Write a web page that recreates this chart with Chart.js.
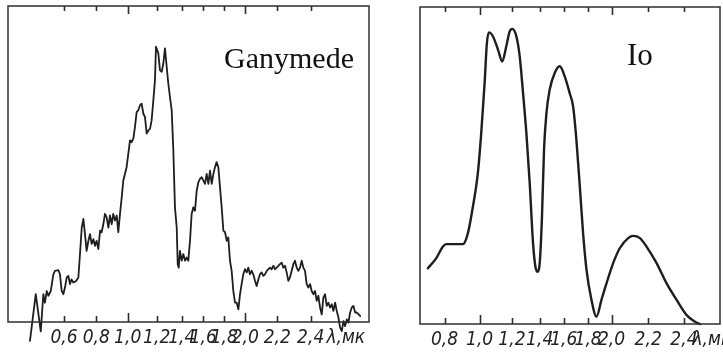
<!DOCTYPE html>
<html><head><meta charset="utf-8">
<script src="https://cdn.jsdelivr.net/npm/chart.js@4/dist/chart.umd.min.js"></script>
<style>
html,body{margin:0;padding:0;background:#fff;}
#wrap{position:relative;width:723px;height:352px;overflow:hidden;background:#fff;}
canvas{position:absolute;top:0;}
</style></head><body>
<div id="wrap">
<canvas id="c1" width="380" height="352" style="left:0"></canvas>
<canvas id="c2" width="343" height="352" style="left:380px"></canvas>
</div>
<script>
// ---------------- DATA (wavelength in microns, relative signal 0..100 of frame height) -------------
const ganymedeWavelength = [
0.389,0.425,0.456,0.472,0.482,0.493,0.503,0.518,0.534,0.544,
0.565,0.575,0.586,0.596,0.606,0.617,0.627,0.637,0.647,0.658,
0.675,0.689,0.699,0.710,0.720,0.730,0.740,0.751,0.761,0.771,
0.782,0.792,0.802,0.813,0.824,0.834,0.845,0.855,0.866,0.877,
0.887,0.898,0.908,0.919,0.930,0.940,0.951,0.962,0.972,0.993,
1.004,1.016,1.027,1.039,1.050,1.062,1.073,1.085,1.096,1.108,
1.119,1.131,1.142,1.154,1.165,1.177,1.188,1.195,1.213,1.226,
1.240,1.253,1.266,1.280,1.293,1.306,1.320,1.333,1.346,1.360,
1.368,1.376,1.386,1.400,1.415,1.431,1.446,1.461,1.477,1.492,
1.508,1.523,1.539,1.554,1.569,1.585,1.600,1.616,1.632,1.648,
1.664,1.680,1.696,1.711,1.727,1.743,1.759,1.775,1.791,1.807,
1.823,1.838,1.854,1.870,1.886,1.902,1.918,1.934,1.950,1.965,
1.981,1.997,2.009,2.019,2.029,2.040,2.050,2.061,2.071,2.082,
2.092,2.102,2.113,2.123,2.134,2.154,2.165,2.175,2.186,2.196,
2.216,2.226,2.236,2.246,2.256,2.266,2.276,2.286,2.296,2.306,
2.316,2.326,2.336,2.346,2.356,2.366,2.376,2.386,2.396,2.406,
2.416,2.426,2.436,2.446,2.456,2.466,2.476,2.486,2.496,2.506,
2.516,2.526,2.536,2.546,2.556,2.566,2.576,2.586,2.596,2.606,
2.616,2.626,2.636,2.646,2.656,2.666,2.676,2.696];
const ganymedeSignal = [
-6.0,8.8,-3.0,8.8,6.1,9.8,8.3,9.8,15.1,16.2,
16.4,15.1,9.8,8.8,10.9,14.1,14.6,12.0,13.5,12.5,
13.0,14.1,21.5,29.9,32.6,27.8,22.5,25.7,27.8,24.7,
26.2,24.1,25.7,23.1,28.9,28.4,31.0,34.2,33.1,29.9,
33.7,31.0,34.2,32.1,33.7,28.4,34.2,39.5,44.8,49.0,
53.2,57.5,56.9,58.0,61.7,66.5,67.0,68.6,69.1,65.9,
64.9,59.6,60.6,61.2,63.8,70.2,76.5,87.1,85.0,79.7,
79.2,81.8,86.6,80.7,75.4,71.2,67.0,54.3,36.3,29.9,
18.3,17.2,22.5,19.4,21.5,19.4,20.4,19.4,25.7,34.2,
36.3,35.2,41.6,44.2,45.3,45.8,44.8,43.7,46.9,43.7,
47.9,43.7,46.9,49.0,50.6,49.0,42.6,36.3,28.9,28.4,
25.7,26.8,19.4,16.2,9.8,6.1,6.1,4.0,8.8,12.0,
15.1,16.7,15.7,17.2,15.1,16.2,15.1,13.0,11.4,13.5,
15.1,15.7,14.6,15.1,16.2,17.2,16.7,17.8,16.7,17.2,
18.3,18.8,17.2,17.8,15.7,13.0,14.1,16.2,18.3,19.4,
17.2,16.2,17.2,19.4,17.2,16.2,12.0,10.9,12.0,9.8,
8.8,9.8,6.7,8.3,4.6,2.4,7.7,8.8,5.1,6.1,
4.6,5.6,3.5,6.1,3.5,1.4,-1.8,-2.9,0.3,-1.3,
0.8,-0.2,3.0,4.6,5.1,3.0,3.0,1.9];

const ioWavelength = [
0.705,0.752,0.790,0.810,0.848,0.905,0.933,0.962,0.990,1.010,
1.031,1.045,1.058,1.083,1.114,1.140,1.165,1.186,1.203,1.232,
1.256,1.280,1.304,1.328,1.352,1.369,1.383,1.400,1.419,1.436,
1.456,1.483,1.525,1.567,1.608,1.649,1.677,1.704,1.732,1.759,
1.787,1.829,1.872,1.914,1.957,2.009,2.045,2.091,2.118,2.155,
2.191,2.247,2.303,2.359,2.415,2.461,2.489];
const ioSignal = [
17.6,20.7,24.4,25.2,25.2,25.2,28.6,37.1,47.6,60.2,
76.0,88.6,92.0,90.7,86.5,82.8,87.6,92.3,93.1,90.7,
84.4,72.8,60.2,44.4,25.5,18.1,16.5,19.2,33.9,54.9,
66.5,73.9,79.2,81.3,78.1,72.8,68.6,58.1,43.4,28.6,
17.1,7.6,2.3,7.6,12.8,19.2,23.9,27.1,27.8,27.1,
24.4,19.2,12.8,7.6,2.8,0.7,0];

// tick labels (λ axis, unit label last)
const ganymedeTickValues = [0.6,0.8,1.0,1.2,1.4,1.6,1.8,2.0,2.2,2.4,2.61];
const ganymedeTickLabels = ['0,6','0,8','1,0','1,2','1,4','1,6','1,8','2,0','2,2','2,4','λ,мк'];
const ioTickValues = [0.8,1.0,1.2,1.4,1.6,1.8,2.0,2.2,2.4,2.555];
const ioTickLabels = ['0,8','1,0','1,2','1,4','1,6','1,8','2,0','2,2','2,4','λ,мк'];

// ---------------- non-linear (prism-dispersion) wavelength scale definition ----------------
const ganymedeScaleStops = {values:[0.253,0.6,0.8,1.0,1.2,1.4,1.6,1.8,2.0,2.2,2.4,2.749],
  fracs:[0,0.1551,0.2446,0.3316,0.4119,0.4812,0.5410,0.5992,0.6573,0.7460,0.8385,1]};
const ioScaleStops = {values:[0.66,0.8,1.0,1.2,1.4,1.6,1.8,2.0,2.2,2.4,2.6],
  fracs:[0,0.0818,0.1987,0.3065,0.3990,0.4791,0.5603,0.6384,0.7606,0.8798,1]};

function interp(xs, ys, v){
  const n = xs.length;
  let i = 0;
  if (v <= xs[0]) i = 0;
  else if (v >= xs[n-1]) i = n-2;
  else { while (i < n-2 && v > xs[i+1]) i++; }
  return ys[i] + (v - xs[i]) * (ys[i+1]-ys[i]) / (xs[i+1]-xs[i]);
}

function makeWarpScale(id, stops, tickValues){
  return class extends Chart.LinearScale {
    static id = id;
    buildTicks(){ return tickValues.map(v => ({value: v})); }
    getPixelForValue(v){ return this.getPixelForDecimal(interp(stops.values, stops.fracs, v)); }
    getValueForPixel(p){ return interp(stops.fracs, stops.values, this.getDecimalForPixel(p)); }
  };
}
const GanymedeScale = makeWarpScale('warpGanymede', ganymedeScaleStops, ganymedeTickValues);
const IoScale = makeWarpScale('warpIo', ioScaleStops, ioTickValues);
Chart.register(GanymedeScale, IoScale);

const INK = '#1e1e1e';

const framePlugin = {
  id: 'frame',
  afterDatasetsDraw(chart){
    const a = chart.chartArea, ctx = chart.ctx, xs = chart.scales.x;
    ctx.save();
    ctx.strokeStyle = '#2e2e2e';
    ctx.lineWidth = 1.5;
    ctx.strokeRect(a.left, a.top, a.right - a.left, a.bottom - a.top);
    ctx.lineWidth = 1.6;
    ctx.lineCap = 'butt';
    const n = xs.ticks.length;
    for (let i = 0; i < n - 1; i++) { // last tick is the unit label: no mark
      const t = xs.ticks[i];
      const x = Math.round(xs.getPixelForValue(t.value)) + 0.5;
      const major = Math.abs(t.value - Math.round(t.value)) < 1e-6;
      const len = major ? 9 : 6;
      ctx.beginPath();
      ctx.moveTo(x, a.bottom);
      ctx.lineTo(x, a.bottom - len);
      ctx.stroke();
      ctx.beginPath();
      ctx.moveTo(x, a.top);
      ctx.lineTo(x, a.top + len - 1);
      ctx.stroke();
    }
    ctx.restore();
  },
  afterDraw(chart, args, opts){
    if (!opts || !opts.text) return;
    const ctx = chart.ctx;
    ctx.save();
    ctx.fillStyle = '#111';
    ctx.font = opts.size + "px 'Liberation Serif', 'Times New Roman', serif";
    ctx.textBaseline = 'alphabetic';
    ctx.textAlign = 'left';
    ctx.fillText(opts.text, opts.x, opts.y);
    ctx.restore();
  }
};

function makeChart(canvasId, scaleType, xs, ys, labels, stops, lineWidth, smooth, padding, axisHeight, title){
  return new Chart(document.getElementById(canvasId), {
    type: 'line',
    data: {
      datasets: [{
        data: xs.map((x, i) => ({x: x, y: ys[i]})),
        borderColor: INK,
        borderWidth: lineWidth,
        pointRadius: 0,
        fill: false,
        clip: false,
        tension: smooth ? 0.4 : 0,
        cubicInterpolationMode: smooth ? 'monotone' : 'default',
        borderJoinStyle: 'round',
        borderCapStyle: 'round'
      }]
    },
    options: {
      responsive: false,
      animation: false,
      events: [],
      layout: { padding: padding },
      plugins: { legend: {display: false}, tooltip: {enabled: false}, frame: title },
      scales: {
        x: {
          type: scaleType,
          min: stops.values[0],
          max: stops.values[stops.values.length - 1],
          grid: { display: false, drawTicks: false },
          border: { display: false },
          ticks: {
            autoSkip: false, maxRotation: 0, minRotation: 0, padding: 5,
            color: '#222',
            font: { family: "'Liberation Sans Narrow', 'DejaVu Sans Condensed', 'Liberation Sans', sans-serif", size: 19, style: 'italic' },
            callback: (v, i) => labels[i]
          },
          afterFit(scale){ scale.height = axisHeight; scale.paddingLeft = 0; scale.paddingRight = 0; }
        },
        y: { display: false, min: 0, max: 100 }
      }
    },
    plugins: [framePlugin]
  });
}

makeChart('c1', 'warpGanymede', ganymedeWavelength, ganymedeSignal, ganymedeTickLabels, ganymedeScaleStops,
  1.8, false, {left: 8, right: 11, top: 6, bottom: 0}, 30, {text: 'Ganymede', x: 224, y: 68, size: 30});
makeChart('c2', 'warpIo', ioWavelength, ioSignal, ioTickLabels, ioScaleStops,
  2.4, true, {left: 40, right: 3, top: 7, bottom: 0}, 28, {text: 'Io', x: 247, y: 65, size: 31});
</script>
</body></html>
